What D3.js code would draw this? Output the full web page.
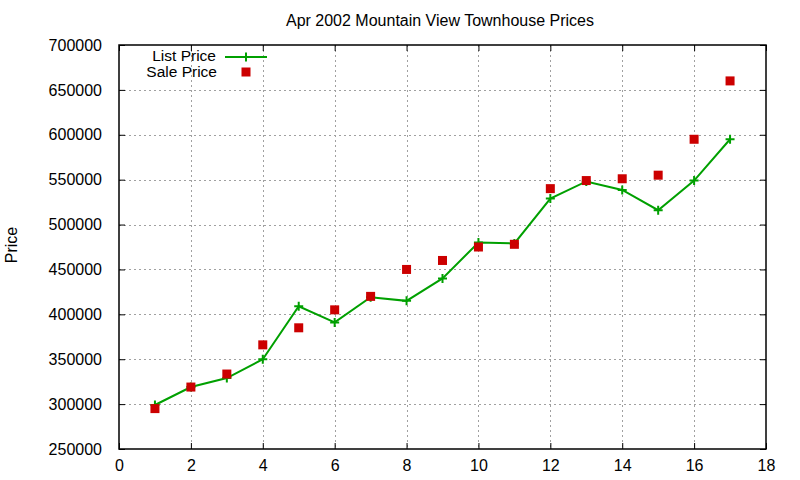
<!DOCTYPE html>
<html>
<head>
<meta charset="utf-8">
<script src="https://cdn.jsdelivr.net/npm/d3@7"></script>
<style>
  body { margin: 0; background: #fff; }
  text { font-family: "Liberation Sans", Arial, sans-serif; fill: #000; }
</style>
</head>
<body>
<div class="chart"></div>
<script>
const width = 800
const height = 480
const margin = { top: 45, right: 34, bottom: 31, left: 119 }

const xs = [1, 2, 3, 4, 5, 6, 7, 8, 9, 10, 11, 12, 13, 14, 15, 16, 17]
const listPrice = [299000, 319000, 329000, 350000, 409000, 391000, 419000, 415000, 440000,
  480000, 479000, 529000, 548000, 538500, 516000, 549000, 595000]
const salePrice = [295000, 319000, 333500, 366000, 385000, 405000, 420000, 450000, 460000,
  475000, 478000, 540000, 549000, 551000, 555000, 595000, 660000]
const xTicks = [0, 2, 4, 6, 8, 10, 12, 14, 16, 18]
const yTicks = [250000, 300000, 350000, 400000, 450000, 500000, 550000, 600000, 650000, 700000]

const svg = d3.select('.chart')
  .append('svg')
  .attr('width', width)
  .attr('height', height)

const x = d3.scaleLinear().domain([0, 18]).range([margin.left, width - margin.right])
const y = d3.scaleLinear().domain([250000, 700000]).range([height - margin.bottom, margin.top])

const x0 = x.range()[0], x1 = x.range()[1]
const y0 = y.range()[0], y1 = y.range()[1]

// grid
const grid = svg.append('g')
  .attr('stroke', '#a0a0a0')
  .attr('stroke-width', 1)
  .attr('stroke-dasharray', '2,3')
grid.selectAll('.vg')
  .data(xTicks.slice(1, -1))
  .enter()
  .append('line')
  .attr('x1', d => Math.round(x(d)) + 0.5)
  .attr('x2', d => Math.round(x(d)) + 0.5)
  .attr('y1', y1)
  .attr('y2', y0)
grid.selectAll('.hg')
  .data(yTicks.slice(1, -1))
  .enter()
  .append('line')
  .attr('y1', d => Math.round(y(d)) + 0.5)
  .attr('y2', d => Math.round(y(d)) + 0.5)
  .attr('x1', x0)
  .attr('x2', x1)

// axes with inward mirror ticks
const tickLen = 6
svg.append('g')
  .attr('transform', `translate(0,${y0})`)
  .call(d3.axisBottom(x).tickValues(xTicks).tickSizeInner(-tickLen).tickSizeOuter(0).tickPadding(11))
svg.append('g')
  .attr('transform', `translate(0,${y1})`)
  .call(d3.axisTop(x).tickValues(xTicks).tickSizeInner(-tickLen).tickSizeOuter(0).tickFormat(''))
svg.append('g')
  .attr('transform', `translate(${x0},0)`)
  .call(d3.axisLeft(y).tickValues(yTicks).tickSizeInner(-tickLen).tickSizeOuter(0).tickPadding(17).tickFormat(d3.format('d')))
svg.append('g')
  .attr('transform', `translate(${x1},0)`)
  .call(d3.axisRight(y).tickValues(yTicks).tickSizeInner(-tickLen).tickSizeOuter(0).tickFormat(''))

svg.selectAll('.tick line').attr('stroke', '#000')
svg.selectAll('.domain').remove()
svg.selectAll('.tick text')
  .style('font-family', '"Liberation Sans", Arial, sans-serif')
  .style('font-size', '16px')
  .attr('fill', '#000')

svg.append('rect')
  .attr('x', x0)
  .attr('y', y1)
  .attr('width', x1 - x0)
  .attr('height', y0 - y1)
  .attr('fill', 'none')
  .attr('stroke', '#000')
  .attr('stroke-width', 1.5)

// list price line
const green = '#00a000'
const red = '#cc0000'
const plusPath = 'M-4.5,0H4.5M0,-4.5V4.5'
const line = d3.line().x((d, i) => x(xs[i])).y(d => y(d))
svg.append('path')
  .datum(listPrice)
  .attr('d', line)
  .attr('fill', 'none')
  .attr('stroke', green)
  .attr('stroke-width', 2)

svg.selectAll('.lp')
  .data(listPrice)
  .enter()
  .append('path')
  .attr('d', plusPath)
  .attr('transform', (d, i) => `translate(${x(xs[i])},${y(d)})`)
  .attr('stroke', green)
  .attr('stroke-width', 2)

// sale price squares
svg.selectAll('.sp')
  .data(salePrice)
  .enter()
  .append('rect')
  .attr('x', (d, i) => x(xs[i]) - 4.5)
  .attr('y', d => y(d) - 4.5)
  .attr('width', 9)
  .attr('height', 9)
  .attr('fill', red)

// legend
const legend = svg.append('g')
legend.append('text')
  .attr('x', 216)
  .attr('y', 61)
  .attr('text-anchor', 'end')
  .style('font-size', '15.5px')
  .text('List Price')
legend.append('line')
  .attr('x1', 225)
  .attr('x2', 267)
  .attr('y1', 57)
  .attr('y2', 57)
  .attr('stroke', green)
  .attr('stroke-width', 2)
legend.append('path')
  .attr('d', plusPath)
  .attr('transform', 'translate(246,57)')
  .attr('stroke', green)
  .attr('stroke-width', 2)
legend.append('text')
  .attr('x', 217)
  .attr('y', 77)
  .attr('text-anchor', 'end')
  .style('font-size', '15.5px')
  .text('Sale Price')
legend.append('rect')
  .attr('x', 241.5)
  .attr('y', 67.5)
  .attr('width', 9)
  .attr('height', 9)
  .attr('fill', red)

// title and y label
svg.append('text')
  .attr('x', 440)
  .attr('y', 26)
  .attr('text-anchor', 'middle')
  .style('font-size', '16px')
  .text('Apr 2002 Mountain View Townhouse Prices')

svg.append('text')
  .attr('transform', 'translate(17,245) rotate(-90)')
  .attr('text-anchor', 'middle')
  .style('font-size', '16px')
  .text('Price')
</script>
</body>
</html>
